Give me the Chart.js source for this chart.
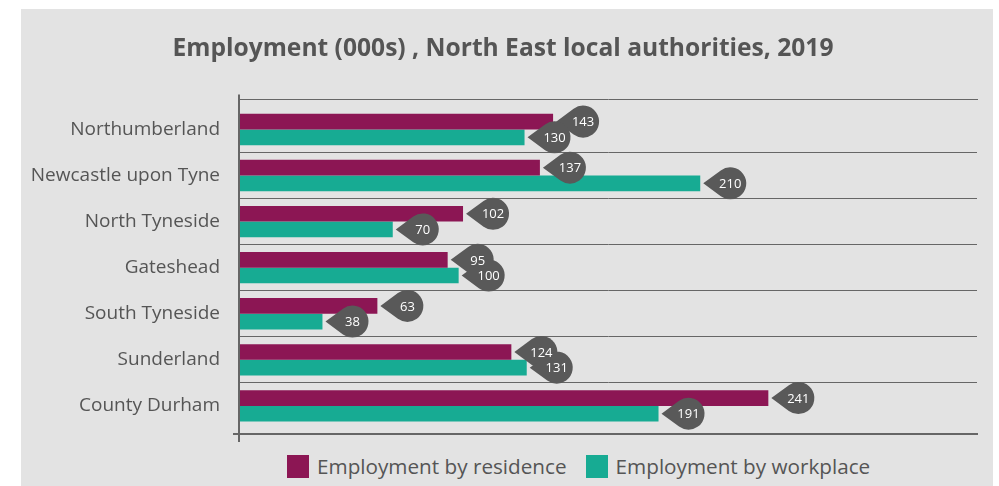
<!DOCTYPE html>
<html>
<head>
<meta charset="utf-8">
<script src="https://cdn.jsdelivr.net/npm/chart.js@4.4.1/dist/chart.umd.min.js"></script>
<style>
  body { margin: 0; background: #fff; width: 999px; height: 486px; overflow: hidden; font-family: "Open Sans", sans-serif; }
  #panel { position: absolute; left: 21px; top: 9px; width: 972px; height: 477px; background: #e3e3e3; }
  #wrap { position: absolute; left: 0; top: 0; width: 972px; height: 440px; }
  #legend { position: absolute; top: 446px; left: 266px; display: flex; align-items: center; color: #555; font-size: 20.7px; line-height: 23px; white-space: nowrap; }
  #legend .item { display: flex; align-items: center; margin-right: 19px; }
  #legend .sw { display: inline-block; width: 22px; height: 23px; margin-right: 8px; }
</style>
</head>
<body>
<div id="panel">
  <div id="wrap"><canvas id="chart"></canvas></div>
  <div id="legend"></div>
</div>
<script>
var categories = ['Northumberland', 'Newcastle upon Tyne', 'North Tyneside', 'Gateshead', 'South Tyneside', 'Sunderland', 'County Durham'];
var byResidence = [143, 137, 102, 95, 63, 124, 241];
var byWorkplace = [130, 210, 70, 100, 38, 131, 191];
var seriesNames = ['Employment by residence', 'Employment by workplace'];
var seriesColours = ['#8c1654', '#17ab93'];
var titleText = 'Employment (000s) , North East local authorities, 2019';

// bars use the category index as a number so the bands can sit a bit off the edges
function toPoints(values) {
    return values.map(function (v, i) { return { x: v, y: i }; });
}

// dark teardrop with the value, pointing back at the bar end
// shapes first, then all the numbers so none gets covered
var bubbleLabels = {
    id: 'bubbleLabels',
    afterDatasetsDraw: function (chart) {
        var c = chart.ctx;
        var r = 16, d = 27, a = Math.acos(r / d);
        var spots = [];
        chart.data.datasets.forEach(function (ds, di) {
            chart.getDatasetMeta(di).data.forEach(function (bar, i) {
                spots.push({ tx: bar.x + 3, y: bar.y, text: String(ds.data[i].x) });
            });
        });
        c.save();
        c.fillStyle = '#595959';
        spots.forEach(function (s) {
            c.beginPath();
            c.moveTo(s.tx, s.y);
            c.arc(s.tx + d, s.y, r, a - Math.PI, Math.PI - a);
            c.closePath();
            c.fill();
        });
        c.fillStyle = '#fff';
        c.font = '13px "Open Sans"';
        c.textAlign = 'center';
        c.textBaseline = 'middle';
        spots.forEach(function (s) {
            c.fillText(s.text, s.tx + d, s.y + 1);
        });
        c.restore();
    }
};

// axis lines poke out a little past the plot corners
var axisStub = {
    id: 'axisStub',
    afterDraw: function (chart) {
        var c = chart.ctx, a = chart.chartArea;
        c.save();
        c.strokeStyle = '#666';
        c.lineWidth = 2;
        c.beginPath();
        c.moveTo(a.left, a.top - 5);
        c.lineTo(a.left, a.top);
        c.moveTo(a.left - 6, a.bottom);
        c.lineTo(a.left, a.bottom);
        c.stroke();
        c.restore();
    }
};

var ctx = document.getElementById('chart');
var myChart = new Chart(ctx, {
    type: 'bar',
    data: {
        datasets: [{
            label: seriesNames[0],
            data: toPoints(byResidence),
            backgroundColor: seriesColours[0],
            categoryPercentage: 0.68,
            barPercentage: 1
        }, {
            label: seriesNames[1],
            data: toPoints(byWorkplace),
            backgroundColor: seriesColours[1],
            categoryPercentage: 0.68,
            barPercentage: 1
        }]
    },
    options: {
        indexAxis: 'y',
        responsive: true,
        maintainAspectRatio: false,
        animation: false,
        layout: { padding: { left: 8, right: 16, top: 0, bottom: 7 } },
        plugins: {
            legend: { display: false },
            tooltip: { enabled: false },
            title: {
                display: true,
                text: titleText,
                color: '#555',
                font: { family: '"Open Sans"', size: 24.6, weight: 'bold' },
                padding: { top: 25, bottom: 36 }
            }
        },
        scales: {
            x: {
                min: 0,
                max: 336,
                afterBuildTicks: function (s) { s.ticks = [{ value: 0 }]; },
                ticks: { display: false },
                grid: { drawOnChartArea: false, tickLength: 8, color: '#666', lineWidth: 2 },
                border: { color: '#666', width: 2 }
            },
            x2: {
                position: 'top',
                min: 0,
                max: 1,
                ticks: { display: false },
                grid: { display: false, drawTicks: false },
                border: { color: '#666', width: 1 }
            },
            y: {
                type: 'linear',
                reverse: true,
                offset: false,
                min: -0.65,
                max: 6.61,
                afterBuildTicks: function (s) {
                    s.ticks = categories.map(function (_, i) { return { value: i }; });
                },
                afterFit: function (s) { s.width = 210; },
                ticks: {
                    callback: function (v) { return categories[v]; },
                    color: '#555',
                    font: { family: '"Open Sans"', size: 19 },
                    padding: 0
                },
                grid: {
                    offset: true,
                    drawTicks: true,
                    tickLength: 19,
                    tickColor: 'rgba(0,0,0,0)',
                    lineWidth: 1,
                    color: function (c) {
                        return (c.type === 'tick' && c.index > 0) ? '#666' : 'rgba(0,0,0,0)';
                    }
                },
                border: { color: '#666', width: 2 }
            }
        }
    },
    plugins: [bubbleLabels, axisStub]
});

var legend = document.getElementById('legend');
seriesNames.forEach(function (name, i) {
    var item = document.createElement('span');
    item.className = 'item';
    var sw = document.createElement('span');
    sw.className = 'sw';
    sw.style.background = seriesColours[i];
    item.appendChild(sw);
    item.appendChild(document.createTextNode(name));
    legend.appendChild(item);
});
</script>
</body>
</html>
